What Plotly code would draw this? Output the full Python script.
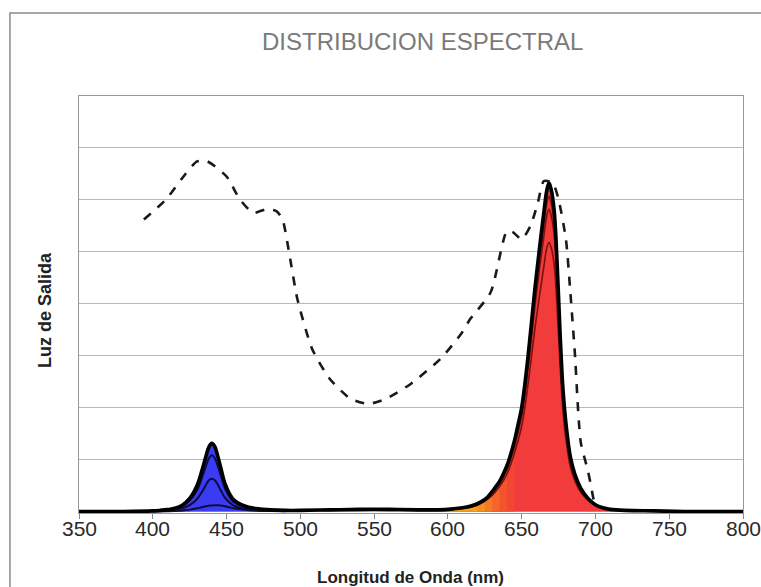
import plotly.graph_objects as go

# ---------------- data ----------------
wl = [350, 380, 400, 405, 410, 415, 420, 425, 430, 433, 436, 438, 440, 442, 444, 446, 449, 452, 455,
      460, 465, 470, 480, 490, 500, 520, 540, 560, 580, 590, 600, 610, 615, 620, 625, 627, 630, 632,
      635, 638, 640, 642, 645, 647, 650, 653, 656, 659, 662, 665, 667, 668.5, 670, 672, 674, 676, 678,
      680, 683, 686, 690, 695, 700, 705, 710, 720, 740, 760, 800]
total = [0.0, 0.0, 0.01, 0.02, 0.035, 0.06, 0.12, 0.25, 0.5, 0.76, 1.06, 1.24, 1.31, 1.25, 1.07, 0.85,
         0.53, 0.34, 0.22, 0.13, 0.08, 0.055, 0.03, 0.02, 0.02, 0.03, 0.04, 0.04, 0.03, 0.03, 0.04, 0.07,
         0.1, 0.15, 0.23, 0.28, 0.38, 0.46, 0.58, 0.75, 0.88, 1.05, 1.35, 1.6, 2.0, 2.65, 3.45, 4.3, 5.05,
         5.75, 6.18, 6.33, 6.2, 5.8, 4.8, 3.45, 2.35, 1.7, 1.05, 0.72, 0.45, 0.25, 0.13, 0.07, 0.04, 0.02,
         0.01, 0.0, 0.0]

wl_blue = [400, 410, 415, 420, 425, 430, 433, 436, 438, 440, 442, 444, 446, 449, 452, 455, 460, 465, 470, 480, 490]
blue_1 = [0.01, 0.03, 0.05, 0.1, 0.21, 0.41, 0.62, 0.87, 1.02, 1.08, 1.03, 0.88, 0.70, 0.44, 0.28, 0.18, 0.11, 0.07, 0.045, 0.025, 0.015]
blue_2 = [0.005, 0.018, 0.03, 0.06, 0.12, 0.24, 0.36, 0.51, 0.6, 0.63, 0.6, 0.52, 0.41, 0.26, 0.17, 0.11, 0.065, 0.04, 0.027, 0.015, 0.01]
blue_3 = [0.0, 0.005, 0.01, 0.02, 0.035, 0.06, 0.08, 0.1, 0.11, 0.115, 0.12, 0.12, 0.115, 0.1, 0.08, 0.06, 0.04, 0.025, 0.015, 0.008, 0.005]

wl_red = [600, 610, 620, 630, 635, 640, 645, 650, 653, 656, 659, 662, 665, 667, 668.5, 670, 672, 674, 676,
          678, 680, 683, 686, 690, 700, 710]
red_1 = [0.04, 0.07, 0.14, 0.36, 0.55, 0.84, 1.29, 1.91, 2.53, 3.3, 4.12, 4.84, 5.51, 5.93, 6.07, 5.95, 5.56,
         4.6, 3.3, 2.25, 1.63, 1.0, 0.69, 0.43, 0.12, 0.04]
red_2 = [0.04, 0.06, 0.13, 0.35, 0.53, 0.81, 1.24, 1.84, 2.44, 3.17, 3.96, 4.65, 5.29, 5.69, 5.82, 5.70, 5.34,
         4.42, 3.17, 2.16, 1.56, 0.97, 0.66, 0.41, 0.12, 0.04]
red_3 = [0.03, 0.06, 0.12, 0.31, 0.48, 0.72, 1.11, 1.64, 2.17, 2.83, 3.53, 4.14, 4.71, 5.07, 5.18, 5.08, 4.76,
         3.94, 2.83, 1.93, 1.39, 0.86, 0.59, 0.37, 0.11, 0.03]

# plant absorption curve (dashed)
abs_x = [394, 409, 420, 430, 437, 450, 459, 468, 477, 484, 488, 492, 498, 508, 520, 534, 546, 558, 575, 595,
         609, 615, 629, 640, 644, 650, 656, 661, 665, 671, 675, 680, 683, 686, 690, 695, 699]
abs_y = [5.62, 6.01, 6.42, 6.74, 6.74, 6.45, 6.01, 5.75, 5.82, 5.78, 5.62, 5.05, 4.09, 3.13, 2.55, 2.17, 2.07,
         2.17, 2.46, 2.94, 3.42, 3.70, 4.22, 5.40, 5.38, 5.24, 5.50, 5.95, 6.36, 6.33, 6.01, 5.24, 4.22, 3.07,
         1.34, 0.77, 0.19]

x_ticks = [350, 400, 450, 500, 550, 600, 650, 700, 750, 800]
x_tick_text = ["350", "400", "450", "500", "550", "600", "650", "700", "750", "800"]

# base colour regions, then overlays drawn from widest to narrowest (start, end, colour)
base_regions = [(350, 500, "#3b3bf2"), (500, 580, "#8cc43f"), (580, 800, "#f23b3b")]
overlays = [(350, 425, "#5a3be3"), (580, 645, "#f24634"), (580, 640, "#f3542d"), (580, 635, "#f46629"),
            (580, 630, "#f57a24"), (580, 625, "#f68d20"), (580, 620, "#f4a01e")]

fig = go.Figure()

for a, b, col in base_regions + overlays:
    xs = [w for w in wl if a <= w <= b]
    ys = [t for w, t in zip(wl, total) if a <= w <= b]
    fig.add_trace(go.Scatter(x=xs, y=ys, mode="lines", line=dict(width=0, color=col, shape="spline"),
                             fill="tozeroy", fillcolor=col, hoverinfo="skip", showlegend=False))

for ys in (blue_1, blue_2, blue_3):
    fig.add_trace(go.Scatter(x=wl_blue, y=ys, mode="lines", line=dict(color="#0c0c40", width=2, shape="spline"),
                             showlegend=False))
for ys in (red_1, red_2, red_3):
    fig.add_trace(go.Scatter(x=wl_red, y=ys, mode="lines", line=dict(color="#7a1010", width=1.6, shape="spline"),
                             showlegend=False))

fig.add_trace(go.Scatter(x=wl, y=total, mode="lines", line=dict(color="black", width=3.6, shape="spline"),
                         showlegend=False))

fig.add_trace(go.Scatter(x=abs_x, y=abs_y, mode="lines",
                         line=dict(color="#1a1a1a", width=2.6, dash="dash", shape="spline", smoothing=0.6),
                         showlegend=False))

tick_annotations = [
    dict(text=t, x=v, y=-0.038, xref="x", yref="paper", xanchor="center", yanchor="middle",
         showarrow=False, font=dict(size=21, color="#2a2a2a"))
    for v, t in zip(x_ticks, x_tick_text)
]

fig.update_layout(
    width=761, height=587, autosize=False,
    margin=dict(l=79, r=18, t=96, b=74),
    paper_bgcolor="white", plot_bgcolor="white",
    font=dict(family="Liberation Sans, Arial, sans-serif"),
    xaxis=dict(range=[350, 800], tickvals=x_ticks, ticks="outside", ticklen=5, tickcolor="#888",
               showticklabels=False, showgrid=False, zeroline=False, automargin=False,
               showline=True, linecolor="#999", linewidth=1, mirror=True),
    yaxis=dict(range=[-0.03, 8], dtick=1, showticklabels=False, showgrid=True, gridcolor="#b8b8b8",
               gridwidth=1.2, zeroline=False, showline=True, linecolor="#999", linewidth=1, mirror=True,
               automargin=False),
    annotations=tick_annotations + [
        dict(text="DISTRIBUCION ESPECTRAL", x=0.5166, y=1.1295, xref="paper", yref="paper",
             xanchor="center", yanchor="middle", showarrow=False,
             font=dict(size=24, color="#7a7a7a")),
        dict(text="<b>Longitud de Onda (nm)</b>", x=0.4985, y=-0.1535, xref="paper", yref="paper",
             xanchor="center", yanchor="middle", showarrow=False,
             font=dict(size=17, color="#222")),
        dict(text="<b>Luz de Salida</b>", x=-0.0512, y=0.487, xref="paper", yref="paper",
             xanchor="center", yanchor="middle", showarrow=False, textangle=-90,
             font=dict(size=18, color="#222")),
    ],
    shapes=[
        dict(type="rect", xref="paper", yref="paper", x0=-0.104, x1=1.1, y0=-0.3, y1=1.199,
             line=dict(color="#8a8a8a", width=1.5), fillcolor="rgba(0,0,0,0)", layer="below"),
    ],
)

fig.write_html("out.html", config={"responsive": False, "displayModeBar": False},
               post_script="document.body.style.margin='0px';document.body.style.overflow='hidden';")
